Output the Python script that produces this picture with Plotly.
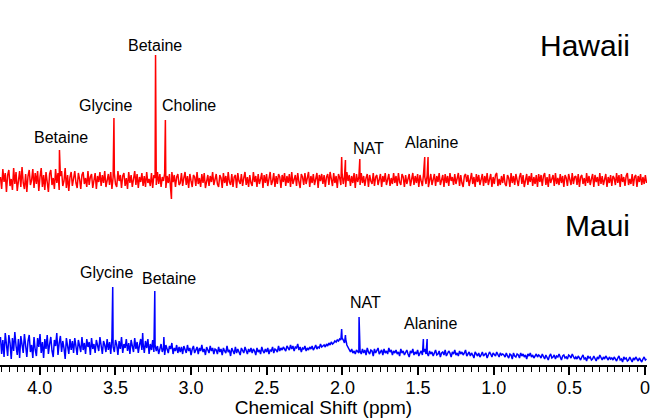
import numpy as np
import plotly.graph_objects as go

# ── Spectrum data (arbitrary intensity units) ───────────────────────────────
hawaii_noise = [
    3, -9, 11, -2, 7, -12, 5, 10, -6, 1, -10, 12, -4, 8, -11, 2, 9, -7, 13, -3, -9, 6, -12, 4, 10, -5, 0, 11, -8, 7,
    -4, 9, -11, 3, 12, -7, 5, -10, 8, -2, -12, 6, 10, -5, 2, -9, 11, -3, 7, -10, 4, 9, -6, -1, 12, -8, 5, -11, 3, 8,
    -6, 4, 9, -3, -8, 7, 1, -9, 5, 8, -4, 2, -7, 9, -5, 3, 6, -8, 0, 7, -9, 4, -2, 8, -6, 5, -3, 9, -7, 2,
    6, -5, 8, -9, 3, 7, -4, -7, 9, -1, 5, -8, 4, 7, -6, 2, -9, 8, -3, 5, -7, 1, 9, -5, 6, -8, 3, -2, 7, -6,
    4, -7, 8, -3, 1, -6, 7, -8, 5, 2, -5, 8, -4, 6, -7, 3, -1, 7, -8, 4, -3, 6, -6, 8, -2, 5, -7, 3, 6, -5,
    -3, 7, -6, 2, 8, -5, 4, -8, 6, -1, -7, 5, 3, -6, 8, -4, 2, -7, 6, -3, 7, -8, 1, 5, -6, 4, -2, 8, -5, 3,
    6, -4, -7, 5, 2, -8, 7, -3, 4, -6, 8, -2, -5, 6, -7, 3, 5, -8, 7, -1, -4, 6, -6, 2, 8, -5, 3, -7, 5, -3,
    -6, 8, -2, 4, -7, 6, -4, 1, 7, -8, 5, -3, 6, -6, 2, 8, -5, -1, 7, -7, 4, -4, 6, 3, -8, 5, -2, 7, -6, 4,
    -3, 6, -7, 8, -4, 2, 5, -6, 7, -2, -8, 6, 3, -5, 7, -4, 1, 8, -7, 4, -3, 6, -5, 2, 7, -8, 5, -1, 6, -4,
    5, -7, 3, 6, -5, 8, -2, -6, 7, -3, 4, -8, 6, 2, -5, 7, -4, 3, -7, 8, -1, 5, -6, 4, -3, 7, -8, 6, -2, 3,
    -5, 7, -3, 4, -6, 2, 6, -7, 5, -1, -4, 7, -6, 3, 5, -5, 1, 6, -7, 4, -2, 7, -5, 3, 6, -6, 2, -4, 7, -3,
    4, -6, 7, -2, -5, 6, 3, -7, 5, -4, 2, 6, -6, 1, 7, -5, 4, -3, 6, -7, 5, -1, -6, 7, 3, -4, 5, -7, 2, 6,
    -5, 3, 6, -6, 4, -2, 7, -5, 1, 5, -7, 6, -3, 4, -6, 7, -1, 3, -5, 6, -4, 2, 7, -6, 5, -3, -7, 4, 6, -2,
    5, -6, 2, 7, -4, 3, -7, 6, -2, 5, -5, 1, 6, -6, 4, -3, 7, -5, 2, 6, -7, 3, -4, 5, 7, -6, 1, -5, 4, -3,
    6, -4, -6, 5, 2, -7, 7, -3, 4, -5, 6, -1, -6, 3, 7, -4, 5, -7, 2, 6, -5, 4, -2, 7, -6, 3, -4, 5, -7, 6,
    -2, 5, -6, 4, 7, -5, 3, -7, 6, -3, 1, 5, -6, 7, -4, 2, -5, 6, -3, 4, -7, 5, 2, -6, 6, -1, -5, 7, -4, 3,
    4, -5, 6, -7, 3, 5, -4, 2, -6, 7, -3, 4, -5, 1, 6, -7, 5, -2, 3, -6, 7, -4, 4, -5, 2, 6, -7, 3, -3, 5,
    -6, 4, 2, -5, 7, -3, 5, -7, 6, -2, 3, -6, 4, 7, -5, 1, -4, 6, -6, 3, 5, -7, 4, -2, 6, -5, 3, -4, 5, -3,
]
maui_noise = [
    28, 11, 25, 8, 32, 17, 9, 30, 22, 6, 27, 14, 33, 19, 10, 26, 7, 29, 21, 12, 31, 16, 8, 24, 30, 13, 20, 7, 28, 15,
    9, 27, 18, 31, 12, 23, 7, 26, 16, 30, 11, 21, 28, 14, 8, 25, 19, 32, 10, 22, 29, 13, 24, 17, 6, 27, 20, 11, 26, 15,
    24, 12, 27, 17, 10, 25, 20, 13, 28, 15, 22, 11, 26, 18, 23, 10, 27, 16, 21, 12, 25, 19, 14, 28, 17, 11, 24, 20, 13, 26,
    15, 23, 11, 27, 18, 13, 25, 20, 10, 24, 16, 28, 12, 21, 17, 26, 14, 22, 11, 25, 19, 13, 27, 16, 23, 12, 20, 26, 15, 22,
    12, 24, 17, 26, 11, 21, 15, 25, 13, 20, 14, 19, 11, 18, 21, 13, 17, 10, 20, 15, 12, 19, 16, 22, 11, 17, 14, 20, 12, 18,
    13, 18, 11, 19, 15, 12, 20, 14, 17, 10, 16, 19, 12, 15, 18, 11, 17, 14, 20, 13, 16, 10, 18, 15, 12, 19, 14, 17, 11, 16,
    15, 11, 18, 13, 16, 10, 17, 14, 12, 19, 13, 15, 9, 17, 14, 11, 18, 12, 16, 13, 10, 17, 15, 12, 18, 14, 11, 16, 13, 17,
    12, 16, 14, 10, 17, 13, 15, 11, 18, 14, 12, 16, 13, 17, 11, 15, 14, 18, 12, 16, 15, 13, 19, 14, 17, 15, 18, 16, 14, 19,
    17, 15, 20, 16, 19, 14, 18, 17, 21, 15, 18, 13, 17, 16, 19, 14, 17, 15, 18, 16, 19, 15, 17, 20, 16, 18, 17, 21, 18, 19,
    20, 18, 21, 19, 22, 20, 23, 21, 22, 24, 23, 25, 24, 26, 25, 27, 25, 22, 26, 20, 17, 15, 13, 16, 12, 14, 11, 15, 13, 12,
    14, 11, 16, 12, 15, 10, 17, 13, 11, 15, 14, 9, 16, 12, 14, 17, 11, 13, 15, 10, 16, 12, 14, 11, 17, 13, 15, 10, 14, 12,
    15, 11, 13, 9, 16, 12, 14, 10, 13, 15, 11, 8, 14, 12, 16, 10, 13, 11, 15, 9, 12, 14, 10, 13, 16, 11, 12, 9, 14, 11,
    13, 9, 12, 15, 10, 11, 14, 8, 12, 13, 10, 15, 9, 11, 14, 12, 8, 13, 11, 15, 10, 12, 9, 14, 11, 13, 10, 12, 15, 9,
    11, 13, 9, 12, 10, 7, 13, 11, 9, 12, 8, 10, 13, 9, 11, 12, 7, 10, 13, 11, 8, 12, 10, 9, 13, 11, 8, 12, 10, 11,
    10, 8, 12, 9, 7, 11, 10, 6, 12, 9, 8, 11, 10, 7, 12, 9, 11, 8, 10, 6, 11, 9, 12, 8, 10, 7, 9, 11, 8, 10,
    9, 7, 11, 8, 6, 10, 8, 5, 9, 11, 7, 8, 10, 6, 9, 8, 11, 7, 5, 9, 10, 7, 8, 6, 10, 9, 7, 11, 8, 6,
    8, 6, 9, 7, 5, 8, 10, 6, 7, 4, 9, 7, 8, 5, 6, 9, 7, 4, 8, 6, 10, 7, 5, 8, 6, 9, 7, 5, 8, 6,
    7, 5, 8, 6, 4, 7, 9, 5, 6, 3, 8, 6, 7, 4, 5, 8, 6, 3, 7, 5, 8, 6, 4, 7, 5, 3, 6, 8, 5, 6,
]

# resonances picked out of the noise
hawaii_peak_ppm = [3.87, 3.51, 3.235, 3.17, 3.13, 2.005, 1.98, 1.885, 1.456, 1.434]
hawaii_peak_int = [30, 62, 125, 60, -19, 23, 20, 21, 23, 23]
maui_peak_ppm = [3.518, 3.32, 3.24, 3.18, 2.005, 1.98, 1.89, 1.465, 1.44]
maui_peak_int = [78, 32, 74, 28, 36, 30, 48, 26, 26]

# metabolite labels: (text, ppm, height)
hawaii_labels = [("Betaine", 3.862, 228), ("Glycine", 3.566, 260), ("Betaine", 3.24, 320),
                 ("Choline", 3.016, 260), ("NAT", 1.83, 217), ("Alanine", 1.414, 223)]
maui_labels = [("Glycine", 3.56, 93), ("Betaine", 3.145, 87), ("NAT", 1.85, 63), ("Alanine", 1.42, 42)]

tick_ppm = [4.0, 3.5, 3.0, 2.5, 2.0, 1.5, 1.0, 0.5, 0.0]
tick_text = ["4.0", "3.5", "3.0", "2.5", "2.0", "1.5", "1.0", "0.5", "0"]

HAWAII_OFFSET = 185
FONT = "Liberation Sans, Arial, sans-serif"


def spectrum(noise, peak_ppm, peak_int):
    grid = np.linspace(4.26, -0.01, len(noise))
    x = np.concatenate([grid, peak_ppm])
    y = np.concatenate([noise, peak_int])
    order = np.argsort(-x)
    return x[order], y[order]


hx, hy = spectrum(hawaii_noise, hawaii_peak_ppm, hawaii_peak_int)
mx, my = spectrum(maui_noise, maui_peak_ppm, maui_peak_int)

fig = go.Figure()
fig.add_trace(go.Scatter(x=hx, y=hy + HAWAII_OFFSET, mode="lines",
                         line=dict(color="#ff0000", width=1.5), name="Hawaii"))
fig.add_trace(go.Scatter(x=mx, y=my, mode="lines",
                         line=dict(color="#0000ff", width=1.5), name="Maui"))

for text, ppm, h in hawaii_labels + maui_labels:
    fig.add_annotation(x=ppm, y=h, text=text, showarrow=False,
                       font=dict(size=16, color="black", family=FONT))
fig.add_annotation(x=0.40, y=320, text="Hawaii", showarrow=False,
                   font=dict(size=30, color="black", family=FONT))
fig.add_annotation(x=0.316, y=140, text="Maui", showarrow=False,
                   font=dict(size=30, color="black", family=FONT))

fig.update_layout(
    width=650, height=418, autosize=False,
    margin=dict(l=0, r=0, t=0, b=53),
    plot_bgcolor="white", paper_bgcolor="white",
    showlegend=False,
    font=dict(family=FONT, color="black"),
)
fig.update_xaxes(
    range=[4.263, -0.013], tickvals=tick_ppm, ticktext=tick_text,
    showgrid=False, zeroline=False,
    showline=True, linecolor="black", linewidth=1.5,
    ticks="outside", ticklen=8, tickwidth=1.5, tickcolor="black",
    minor=dict(dtick=0.05, tick0=0, ticks="outside", ticklen=5, tickwidth=1, tickcolor="black"),
    tickfont=dict(size=18), ticklabeloverflow="allow", ticklabelstandoff=-2,
    title=dict(text="Chemical Shift (ppm)", font=dict(size=19), standoff=6),
)
fig.update_yaxes(visible=False, range=[0, 365], fixedrange=True)

# page body margin/scrollbars would squeeze the 650x418 figure
fig.write_html(
    "out.html",
    config={"displayModeBar": False},
    post_script="document.body.style.margin = '0'; document.body.style.overflow = 'hidden';"
                "Plotly.Plots.resize(document.getElementById('{plot_id}'));",
)
